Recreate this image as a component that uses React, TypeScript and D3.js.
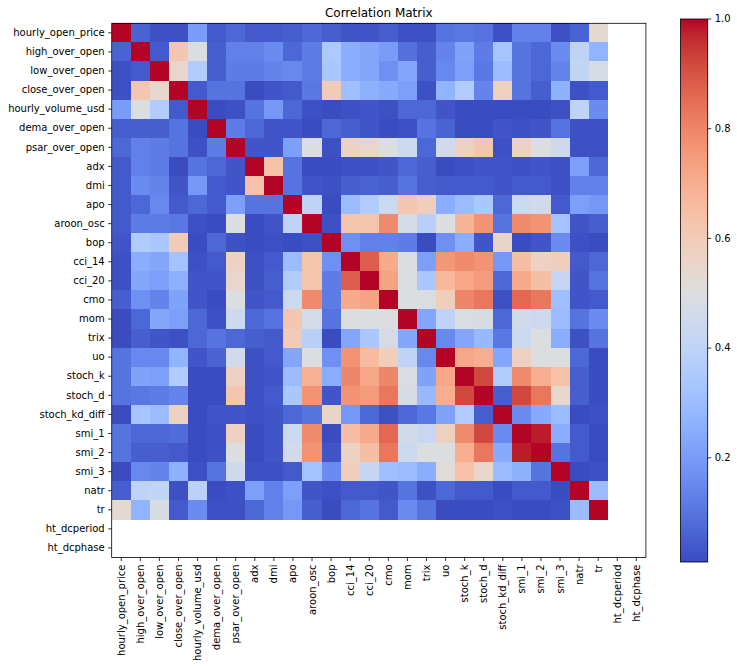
import * as d3 from 'd3';
import React from 'react';

const labels = [
  'hourly_open_price', 'high_over_open', 'low_over_open', 'close_over_open', 'hourly_volume_usd',
  'dema_over_open', 'psar_over_open', 'adx', 'dmi', 'apo', 'aroon_osc', 'bop', 'cci_14', 'cci_20',
  'cmo', 'mom', 'trix', 'uo', 'stoch_k', 'stoch_d', 'stoch_kd_diff', 'smi_1', 'smi_2', 'smi_3',
  'natr', 'tr', 'ht_dcperiod', 'ht_dcphase',
];

// |corr| values, rows/cols in label order; ht_dcperiod and ht_dcphase are NaN (not listed)
const corrRows: number[][] = [
  [1, .06, .02, .02, .2, .04, .07, .04, .04, .05, .07, .05, .03, .03, .05, .02, .02, .1, .11, .1, .02, .13, .13, .02, .06, .53],
  [.06, 1, .04, .62, .5, .05, .13, .13, .16, .07, .12, .35, .25, .23, .2, .09, .05, .14, .22, .12, .33, .1, .07, .16, .4, .27],
  [.02, .04, 1, .55, .36, .05, .12, .12, .14, .15, .12, .34, .25, .23, .17, .23, .05, .15, .21, .11, .3, .1, .07, .14, .41, .48],
  [.02, .62, .55, 1, .04, .1, .1, .01, .03, .04, .11, .6, .31, .26, .24, .21, .02, .27, .36, .14, .58, .1, .05, .26, .02, .04],
  [.2, .5, .36, .04, 1, .01, .02, .1, .19, .07, .02, .01, .02, .03, .02, .07, .07, .03, .01, .01, .01, .01, .01, .02, .4, .16],
  [.05, .05, .05, .1, .01, 1, .12, .07, .03, .03, .01, .07, .05, .03, .01, .02, .1, .06, .01, .01, .03, .02, .03, .1, .02, .02],
  [.07, .13, .12, .1, .02, .12, 1, .03, .03, .21, .5, .02, .57, .55, .5, .44, .07, .46, .58, .62, .02, .57, .5, .45, .02, .02],
  [.04, .13, .12, .01, .1, .07, .03, 1, .64, .1, .01, .01, .02, .02, .03, .07, .05, .01, .02, .03, .03, .02, .03, .02, .21, .07],
  [.04, .16, .14, .03, .19, .04, .03, .64, 1, .1, .03, .02, .05, .06, .05, .1, .05, .04, .04, .04, .03, .04, .04, .02, .13, .13],
  [.04, .07, .15, .04, .07, .04, .21, .1, .1, 1, .4, .01, .3, .36, .44, .62, .59, .25, .3, .34, .07, .44, .46, .04, .21, .19],
  [.04, .12, .12, .11, .02, .01, .5, .01, .03, .4, 1, .02, .63, .63, .79, .47, .38, .5, .68, .77, .1, .79, .77, .32, .03, .05],
  [.03, .36, .34, .6, .01, .07, .02, .01, .02, .01, .02, 1, .17, .13, .13, .12, .01, .17, .25, .03, .56, .01, .03, .16, .02, .01],
  [.02, .25, .23, .32, .02, .04, .57, .02, .04, .3, .63, .17, 1, .88, .71, .5, .21, .76, .79, .77, .19, .65, .57, .59, .04, .07],
  [.02, .23, .21, .26, .03, .03, .55, .02, .05, .36, .63, .12, .88, 1, .73, .5, .34, .67, .72, .75, .07, .71, .65, .42, .03, .1],
  [.05, .17, .14, .22, .03, .01, .5, .03, .04, .44, .79, .12, .71, .73, 1, .5, .49, .59, .8, .83, .02, .86, .83, .31, .03, .04],
  [.01, .07, .23, .21, .07, .02, .44, .07, .1, .62, .47, .1, .5, .5, .5, 1, .23, .4, .49, .48, .07, .46, .44, .3, .1, .16],
  [.01, .05, .03, .02, .07, .1, .07, .05, .04, .6, .38, .01, .23, .34, .47, .23, 1, .15, .23, .29, .11, .44, .5, .25, .02, .1],
  [.1, .15, .15, .27, .03, .06, .46, .02, .04, .23, .5, .17, .77, .66, .59, .4, .15, 1, .72, .7, .23, .58, .5, .5, .07, .01],
  [.1, .22, .21, .36, .01, .01, .57, .02, .03, .3, .69, .25, .8, .72, .8, .49, .22, .72, 1, .92, .36, .79, .7, .64, .05, .01],
  [.1, .11, .12, .14, .01, .01, .62, .02, .04, .34, .77, .03, .77, .75, .83, .48, .29, .7, .92, 1, .05, .92, .83, .55, .05, .01],
  [.01, .33, .3, .58, .01, .03, .03, .02, .03, .07, .1, .56, .19, .07, .02, .07, .11, .22, .36, .05, 1, .16, .24, .3, .01, .02],
  [.1, .07, .07, .08, .01, .02, .57, .01, .03, .44, .79, .01, .65, .71, .86, .46, .43, .58, .79, .92, .16, 1, .98, .25, .04, .01],
  [.1, .05, .05, .04, .01, .02, .5, .01, .03, .46, .77, .03, .57, .65, .83, .44, .5, .5, .7, .83, .24, .98, 1, .1, .04, .01],
  [.01, .15, .14, .26, .02, .1, .45, .02, .02, .04, .32, .16, .59, .42, .31, .3, .25, .52, .64, .55, .3, .26, .1, 1, .01, .02],
  [.05, .4, .41, .02, .39, .01, .02, .21, .13, .21, .03, .02, .04, .04, .03, .1, .02, .07, .04, .04, .01, .04, .04, .01, 1, .3],
  [.53, .27, .48, .04, .16, .02, .02, .07, .13, .19, .05, .01, .07, .1, .04, .16, .1, .01, .01, .01, .02, .01, .01, .02, .3, 1],
];

const cbarTicks = [0.2, 0.4, 0.6, 0.8, 1.0];

// matplotlib coolwarm (Moreland) control points
const coolwarm = [
  '#3b4cc0', '#445acc', '#4d68d7', '#5775e1', '#6282ea', '#6c8ef1', '#779af7', '#82a5fb',
  '#8db0fe', '#98b9ff', '#a3c2ff', '#aec9fd', '#b8d0f9', '#c2d5f4', '#ccd9ee', '#d5dbe6',
  '#dddddd', '#e5d8d1', '#ecd3c5', '#f1ccb9', '#f5c4ad', '#f7bba0', '#f7b194', '#f7a687',
  '#f49a7b', '#f18d6f', '#ec7f63', '#e57058', '#de604d', '#d55042', '#cb3e38', '#c0282f', '#b40426',
];

const W = 737, H = 669;
const left = 111.7, top = 23.3, size = 534.2;
const cbX = 680.5, cbW = 27.2, cbY = 19, cbH = 543;

const App = () => {
  const x = d3.scaleBand<string>().domain(labels).range([left, left + size]);
  const y = d3.scaleBand<string>().domain(labels).range([top, top + size]);

  const flat = corrRows.flat();
  const vmin = d3.min(flat) as number;
  const vmax = d3.max(flat) as number;
  const cmap = d3.scaleLinear<string>()
    .domain(coolwarm.map((_, i) => i / (coolwarm.length - 1)))
    .range(coolwarm)
    .interpolate(d3.interpolateRgb);
  const norm = d3.scaleLinear().domain([vmin, vmax]).range([0, 1]).clamp(true);
  const color = (v: number) => cmap(norm(v));

  const cbScale = d3.scaleLinear().domain([vmin, vmax]).range([cbY + cbH, cbY]);

  const cells: { r: number; c: number; v: number }[] = [];
  corrRows.forEach((row, r) => row.forEach((v, c) => cells.push({ r, c, v })));

  const font = 'DejaVu Sans, sans-serif';

  return (
    <svg width={W} height={H} style={{ position: 'absolute', left: 0, top: 0, background: '#fff' }}>
      <defs>
        <linearGradient id="cbgrad" x1="0" y1="1" x2="0" y2="0">
          {coolwarm.map((c, i) => (
            <stop key={i} offset={i / (coolwarm.length - 1)} stopColor={c} />
          ))}
        </linearGradient>
      </defs>

      <text x={left + size / 2} y={top - 6} textAnchor="middle" fontFamily={font} fontSize={12}>
        Correlation Matrix
      </text>

      <g shapeRendering="crispEdges">
        {cells.map(d => (
          <rect key={d.r + '-' + d.c}
            x={x(labels[d.c])} y={y(labels[d.r])}
            width={x.bandwidth() + 0.5} height={y.bandwidth() + 0.5}
            fill={color(d.v)} />
        ))}
      </g>

      <rect x={left} y={top} width={size} height={size} fill="none" stroke="#000" strokeWidth={0.8} />

      {labels.map(l => {
        const cy = (y(l) as number) + y.bandwidth() / 2;
        return (
          <g key={'y' + l}>
            <line x1={left - 3.5} x2={left} y1={cy} y2={cy} stroke="#000" strokeWidth={0.8} />
            <text x={left - 7} y={cy} dy="0.32em" textAnchor="end" fontFamily={font} fontSize={10}>{l}</text>
          </g>
        );
      })}

      {labels.map(l => {
        const cx = (x(l) as number) + x.bandwidth() / 2;
        return (
          <g key={'x' + l}>
            <line x1={cx} x2={cx} y1={top + size} y2={top + size + 3.5} stroke="#000" strokeWidth={0.8} />
            <text transform={`translate(${cx},${top + size + 7}) rotate(-90)`} dy="0.35em"
              textAnchor="end" fontFamily={font} fontSize={10}>{l}</text>
          </g>
        );
      })}

      <rect x={cbX} y={cbY} width={cbW} height={cbH} fill="url(#cbgrad)" stroke="#000" strokeWidth={0.8} />
      {cbarTicks.map(t => (
        <g key={'cb' + t}>
          <line x1={cbX + cbW} x2={cbX + cbW + 3.5} y1={cbScale(t)} y2={cbScale(t)} stroke="#000" strokeWidth={0.8} />
          <text x={cbX + cbW + 7} y={cbScale(t)} dy="0.32em" fontFamily={font} fontSize={10}>{t.toFixed(1)}</text>
        </g>
      ))}
    </svg>
  );
};

export default App;
